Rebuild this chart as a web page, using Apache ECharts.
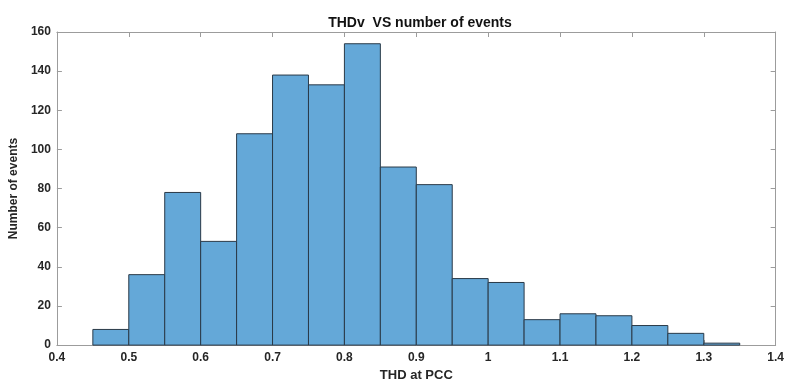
<!DOCTYPE html>
<html><head><meta charset="utf-8">
<script src="https://cdn.jsdelivr.net/npm/echarts@6/dist/echarts.min.js"></script>
<style>html,body{margin:0;padding:0;background:#fff;overflow:hidden}#c{width:787px;height:387px}</style>
</head><body><div id="c"></div>
<script>
const binEdgesLow = [0.45,0.5,0.55,0.6,0.65,0.7,0.75,0.8,0.85,0.9,0.95,1.0,1.05,1.1,1.15,1.2,1.25,1.3];
const binWidth = 0.05;
const counts = [8,36,78,53,108,138,133,154,91,82,34,32,13,16,15,10,6,1];
const xTicks = [0.4,0.5,0.6,0.7,0.8,0.9,1,1.1,1.2,1.3,1.4];
const yTicks = [0,20,40,60,80,100,120,140,160];

const data = binEdgesLow.map((lo,i)=>[lo, +(lo+binWidth).toFixed(4), counts[i]]);
const axisColor = '#9c9c9c';
const labelColor = '#262626';
const font = 'Liberation Sans, Arial, sans-serif';
const chart = echarts.init(document.getElementById('c'));
const xCommon = {type:'value', min:xTicks[0], max:xTicks[xTicks.length-1], interval:0.1,
  axisLine:{show:true,onZero:false,lineStyle:{color:axisColor,width:1}},
  axisTick:{show:true,inside:true,length:5,lineStyle:{color:axisColor}},
  splitLine:{show:false}};
const yCommon = {type:'value', min:yTicks[0], max:yTicks[yTicks.length-1], interval:20,
  axisLine:{show:true,lineStyle:{color:axisColor,width:1}},
  axisTick:{show:true,inside:true,length:5,lineStyle:{color:axisColor}},
  splitLine:{show:false}};
chart.setOption({
  animation:false,
  title:{text:'THDv  VS number of events', left:415, top:11, textAlign:'center',
    textStyle:{fontFamily:font,fontSize:14,fontWeight:'bold',color:'#111'}},
  grid:{left:53,right:8,top:32,bottom:29,containLabel:false},
  xAxis:[
    Object.assign({}, xCommon, {position:'bottom', name:'THD at PCC', nameLocation:'middle', nameGap:15,
      nameTextStyle:{fontFamily:font,fontSize:13,fontWeight:'bold',color:labelColor},
      axisLabel:{fontFamily:font,fontSize:12,fontWeight:'bold',color:labelColor,margin:7,
        formatter:v=>String(+v.toFixed(1))}}),
    Object.assign({}, xCommon, {position:'top', axisLabel:{show:false}})
  ],
  yAxis:[
    Object.assign({}, yCommon, {position:'left', name:'Number of events', nameLocation:'middle', nameGap:32,
      nameTextStyle:{fontFamily:font,fontSize:12,fontWeight:'bold',color:labelColor},
      axisLabel:{fontFamily:font,fontSize:12,fontWeight:'bold',color:labelColor,margin:6}}),
    Object.assign({}, yCommon, {position:'right', axisLabel:{show:false}})
  ],
  series:[{
    type:'custom',
    xAxisIndex:0, yAxisIndex:0,
    encode:{x:[0,1], y:2},
    data:data,
    renderItem:function(params, api){
      const p0 = api.coord([api.value(0), api.value(2)]);
      const p1 = api.coord([api.value(1), 0]);
      return {type:'rect',
        shape:{x:p0[0], y:p0[1], width:p1[0]-p0[0], height:p1[1]-p0[1]},
        style:{fill:'#64a8d8', stroke:'#2a3a48', lineWidth:1}};
    }
  }]
});
</script></body></html>
